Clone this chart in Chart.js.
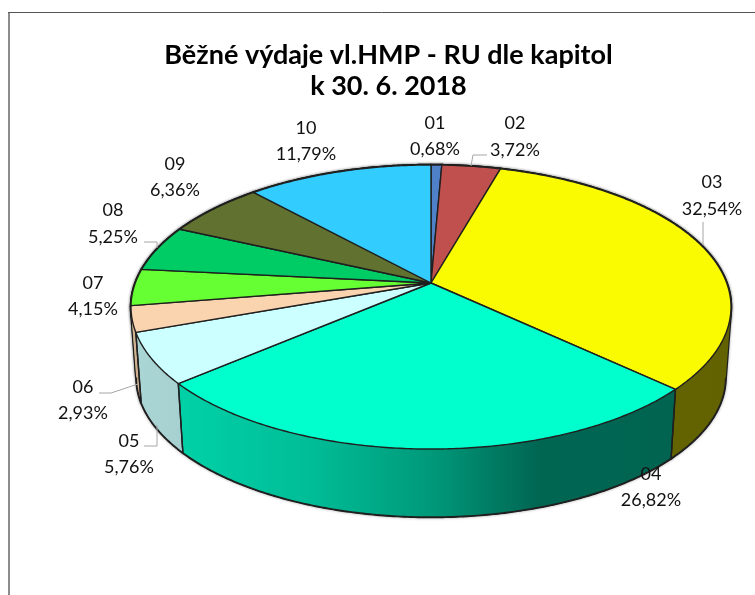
<!DOCTYPE html>
<html><head><meta charset="utf-8">
<style>html,body{margin:0;padding:0;background:#fff;overflow:hidden}canvas{display:block}</style>
<script src="https://cdn.jsdelivr.net/npm/chart.js@4"></script>
</head><body>
<div style="width:755px;height:595px"><canvas id="c" width="755" height="595"></canvas></div>
<script>
const titleLines = ['Běžné výdaje vl.HMP - RU dle kapitol', 'k 30. 6. 2018'];
const categories = ['01','02','03','04','05','06','07','08','09','10'];
const shares = [0.68,3.72,32.54,26.82,5.76,2.93,4.15,5.25,6.36,11.79];
const sliceColors = [[79,129,200],[192,80,77],[250,250,0],[0,255,204],[204,255,255],[250,212,175],[102,255,51],[0,204,102],[97,114,48],[51,204,255]];
// perspective projection of the pie disc
const view = {cx:431, cy:283, a:295.7, b:138, k:0.169, depth:71, shrink:0.982};
// hand-placed text: centre x, y of first line, y of second line
const labelPlaces = [[435,123,149],[515,123,150],[712,182,209],[651,474,500],[129,441,467],[83,387,413],[93,283,309],[113,210,237],[175,164,190],[306,128,154]];
const leaders = [[[471,166],[473,155],[487,155]],[[703,222],[703,245]],[[157,425],[157,446],[144,446]],[[138,384],[111,393],[99,393]],[[144,242],[157,242],[157,248]]];
const shadeStops = [[0,.84],[.08,.82],[.3,.74],[.5,.6],[.68,.4],[1,.39]];

function proj(X,Y,lower){
  const w=1-view.k*Y; let x=view.a*X/w, y=view.b*Y/w;
  if(lower){x*=view.shrink;y=y*view.shrink+view.depth;}
  return [view.cx+x,view.cy+y];
}
function arcPts(a0,a1,lower){
  const n=Math.max(2,Math.ceil(Math.abs(a1-a0)/0.01)),p=[];
  for(let i=0;i<=n;i++){const t=a0+(a1-a0)*i/n;p.push(proj(Math.cos(t),Math.sin(t),lower));}
  return p;
}
function addPoly(ctx,p){
  let s=0;p.forEach((q,i)=>{const r=p[(i+1)%p.length];s+=q[0]*r[1]-r[0]*q[1];});
  const o=s<0?p.slice().reverse():p;
  o.forEach((q,i)=>i?ctx.lineTo(q[0],q[1]):ctx.moveTo(q[0],q[1]));ctx.closePath();
}
function trace(ctx,p){ctx.beginPath();addPoly(ctx,p);}
function openLine(ctx,p){ctx.beginPath();p.forEach((q,i)=>i?ctx.lineTo(q[0],q[1]):ctx.moveTo(q[0],q[1]));ctx.stroke();}
function sweepPath(ctx,e){
  const t=arcPts(e.startAngle,e.endAngle,false),b=arcPts(e.startAngle,e.endAngle,true);
  ctx.beginPath();
  for(let i=0;i<t.length-1;i++)addPoly(ctx,[t[i],t[i+1],b[i+1],b[i]]);
}

const pie3d={id:'pie3d',
 beforeDatasetsDraw(chart){
  const ctx=chart.ctx, arcs=chart.getDatasetMeta(0).data;
  ctx.save();
  ctx.lineJoin='round';ctx.strokeStyle='#1f1f1f';
  // outer silhouette with a soft edge
  ctx.save();ctx.shadowColor='rgba(0,0,0,.35)';ctx.shadowBlur=3;ctx.lineWidth=2.4;
  arcs.forEach(e=>{sweepPath(ctx,e);ctx.stroke();});
  trace(ctx,arcPts(0,2*Math.PI,false));ctx.stroke();
  ctx.restore();
  // walls, back to front
  const order=arcs.map((e,i)=>i).sort((i,j)=>Math.sin((arcs[i].startAngle+arcs[i].endAngle)/2)-Math.sin((arcs[j].startAngle+arcs[j].endAngle)/2));
  ctx.lineWidth=1.4;
  order.forEach(i=>{
    const e=arcs[i], c=sliceColors[i];
    const g=ctx.createLinearGradient(view.cx-view.a*1.015,0,view.cx+view.a*1.015,0);
    shadeStops.forEach(s=>g.addColorStop(s[0],`rgb(${c.map(v=>Math.round(v*s[1])).join(',')})`));
    ctx.fillStyle=g;
    sweepPath(ctx,e);ctx.fill();
  });
  // visible wall edges
  arcs.forEach(e=>{
    const vis=arcPts(e.startAngle,e.endAngle,true).filter((q,n,all)=>{
      const t=e.startAngle+(e.endAngle-e.startAngle)*n/(all.length-1);return Math.sin(t)>=view.k;});
    if(vis.length>1)openLine(ctx,vis);
    [e.startAngle,e.endAngle].forEach(a=>{
      if(Math.sin(a)>=view.k)openLine(ctx,[proj(Math.cos(a),Math.sin(a),false),proj(Math.cos(a),Math.sin(a),true)]);});
  });
  // top face
  arcs.forEach((e,i)=>{
    ctx.fillStyle=`rgb(${sliceColors[i].join(',')})`;
    trace(ctx,[proj(0,0,false)].concat(arcPts(e.startAngle,e.endAngle,false)));
    ctx.fill();ctx.stroke();
  });
  ctx.restore();
  return false;
 },
 afterDraw(chart){
  const ctx=chart.ctx;
  ctx.save();
  // chart frame
  ctx.strokeStyle='#8c8c8c';ctx.lineWidth=2;openLine(ctx,[[9,12],[9,595]]);
  ctx.strokeStyle='#555';ctx.lineWidth=1;openLine(ctx,[[8,12.5],[755,12.5]]);
  // leader lines
  ctx.strokeStyle='#a6a6a6';ctx.lineWidth=1;
  leaders.forEach(l=>openLine(ctx,l));
  // labels
  ctx.fillStyle='#111';ctx.textAlign='center';ctx.textBaseline='middle';ctx.font='18px Lato';
  categories.forEach((n,i)=>{
    const p=labelPlaces[i];
    ctx.fillText(n,p[0],p[1]);
    ctx.fillText(shares[i].toFixed(2).replace('.',',')+'%',p[0],p[2]);
  });
  ctx.restore();
 }
};
new Chart(document.getElementById('c'),{
 type:'pie',
 data:{labels:categories,datasets:[{data:shares,backgroundColor:sliceColors.map(c=>`rgb(${c.join(',')})`)}]},
 options:{responsive:false,animation:false,
  layout:{padding:{left:22,top:40}},
  plugins:{legend:{display:false},tooltip:{enabled:false},
   title:{display:true,text:titleLines,color:'#000',font:{family:'Lato',size:27,weight:'bold',lineHeight:1.15},padding:0}}},
 plugins:[pie3d]
});
</script></body></html>
